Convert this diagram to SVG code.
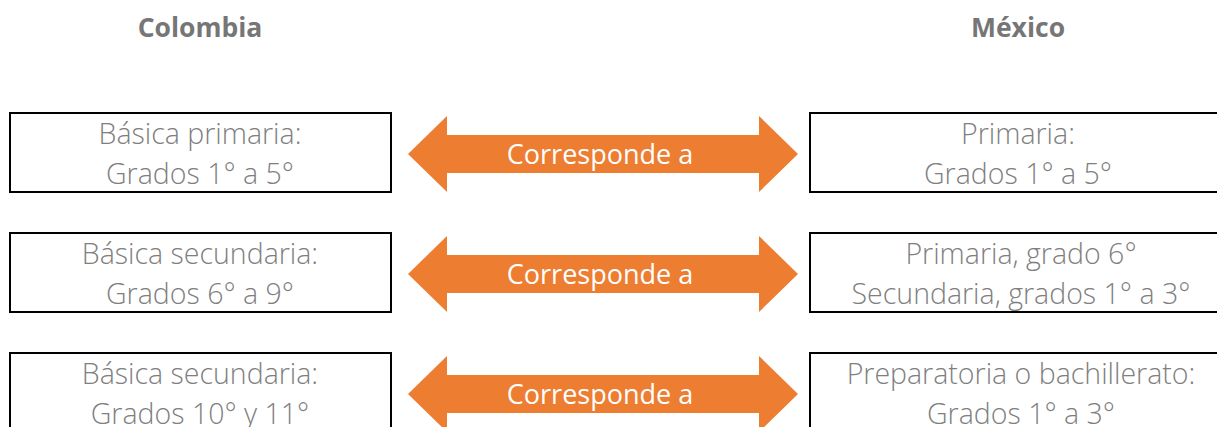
<svg xmlns="http://www.w3.org/2000/svg" width="1217" height="427" viewBox="0 0 1217 427">
<style>
.hdr{font-family:"Open Sans","Liberation Sans",sans-serif;font-weight:700;font-size:26.5px;fill:#767676;text-anchor:middle}
.box{fill:#fff;stroke:#000;stroke-width:2}
.t{font-family:"Open Sans","Liberation Sans",sans-serif;font-weight:300;font-size:28.5px;fill:#7f7f7f;text-anchor:middle}
.arr{fill:#ed7d31}
.at{font-family:"Open Sans","Liberation Sans",sans-serif;font-weight:400;font-size:27px;fill:#fff;text-anchor:middle}
</style>
<defs>
<path id="dbl" class="arr" d="M408,0 L447,-38 L447,-19 L759,-19 L759,-38 L798,0 L759,38 L759,19 L447,19 L447,38 Z"/>
</defs>
<text class="hdr" x="200" y="37">Colombia</text>
<text class="hdr" x="1018" y="37">México</text>
<g id="col1"><rect class="box" x="10" y="113" width="381" height="79"/><text class="t" x="200" y="144">Básica primaria:</text><text class="t" x="200" y="184">Grados 1° a 5°</text></g>
<g id="col2"><rect class="box" x="10" y="233" width="381" height="79"/><text class="t" x="200" y="264">Básica secundaria:</text><text class="t" x="200" y="304">Grados 6° a 9°</text></g>
<g id="col3"><rect class="box" x="10" y="353" width="381" height="79"/><text class="t" x="200" y="384">Básica secundaria:</text><text class="t" x="200" y="424">Grados 10° y 11°</text></g>
<g id="mex1"><rect class="box" x="810" y="113" width="420" height="79"/><text class="t" x="1018" y="144">Primaria:</text><text class="t" x="1018" y="184">Grados 1° a 5°</text></g>
<g id="mex2"><rect class="box" x="810" y="233" width="420" height="79"/><text class="t" x="1021" y="264">Primaria, grado 6°</text><text class="t" x="1021" y="304">Secundaria, grados 1° a 3°</text></g>
<g id="mex3"><rect class="box" x="810" y="353" width="420" height="79"/><text class="t" x="1021" y="384">Preparatoria o bachillerato:</text><text class="t" x="1021" y="424">Grados 1° a 3°</text></g>
<g id="connectors">
<g id="arrow1"><use href="#dbl" y="154"/><text class="at" x="600" y="164">Corresponde a</text></g>
<g id="arrow2"><use href="#dbl" y="274"/><text class="at" x="600" y="284">Corresponde a</text></g>
<g id="arrow3"><use href="#dbl" y="394"/><text class="at" x="600" y="404">Corresponde a</text></g>
</g>
</svg>
